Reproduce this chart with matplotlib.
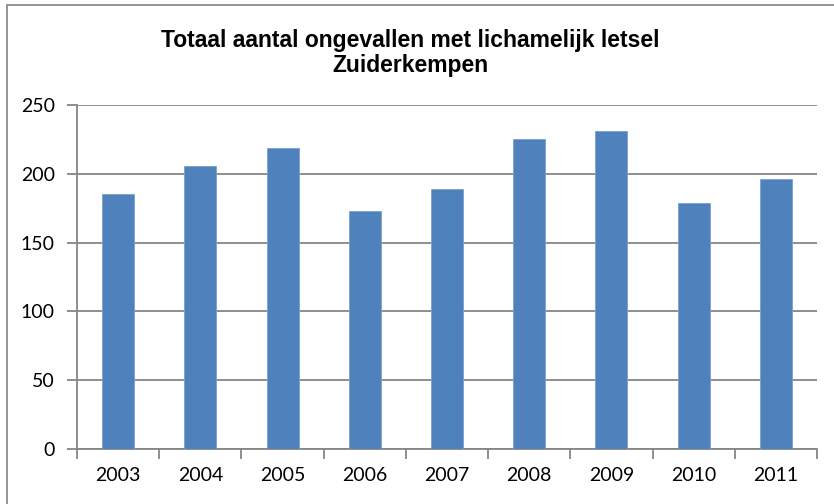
import matplotlib
matplotlib.use('Agg')
from matplotlib import pyplot as plt
from matplotlib.patches import Rectangle

years = ['2003', '2004', '2005', '2006', '2007', '2008', '2009', '2010', '2011']
accidents = [185, 206, 219, 173, 189, 225, 231, 179, 196]
yticks = [0, 50, 100, 150, 200, 250]

W, H = 834, 504
fig = plt.figure(figsize=(W / 100, H / 100), dpi=100)

# chart border (runs off the right and bottom edge as in the original)
fig.patches.append(Rectangle((7 / W, -0.1), 1.2, 1 - 5 / H + 0.1, transform=fig.transFigure,
                             fill=False, edgecolor='#8c8c8c', linewidth=1.3, clip_on=True))

left, right, top, bottom = 77, 817, 105, 449
ax = fig.add_axes([left / W, (H - bottom) / H, (right - left) / W, (bottom - top) / H])

grey = '#868686'
x = list(range(len(years)))
ax.bar(x, accidents, width=0.39, color='#4f81bd', edgecolor='#7a9fd0', linewidth=0.6, zorder=3)

ax.set_xlim(-0.5, len(years) - 0.5)
ax.set_ylim(0, 250)
ax.set_yticks(yticks)
ax.set_xticks(x)
ax.set_xticklabels(years)
ax.set_xticks([i - 0.5 for i in range(len(years) + 1)], minor=True)

ax.grid(axis='y', color=grey, linewidth=1.3, zorder=0)
for s in ['top', 'right']:
    ax.spines[s].set_visible(False)
for s in ['left', 'bottom']:
    ax.spines[s].set_color(grey)
    ax.spines[s].set_linewidth(1.3)

tick_font = 'Lato'
ax.tick_params(axis='x', which='major', length=0, pad=13, labelsize=14, colors='black')
ax.tick_params(axis='x', which='minor', length=7, width=1.3, color=grey)
ax.tick_params(axis='y', length=7, width=1.3, color=grey, pad=9, labelsize=14, labelcolor='black')
for lab in ax.get_xticklabels() + ax.get_yticklabels():
    lab.set_family(tick_font)

fig.text(410 / W, 1 - 53 / H, 'Totaal aantal ongevallen met lichamelijk letsel\nZuiderkempen',
         ha='center', va='center', fontsize=16.5, fontweight='bold',
         family='Liberation Sans', linespacing=1.1)

plt.savefig('out.png', dpi=100)
